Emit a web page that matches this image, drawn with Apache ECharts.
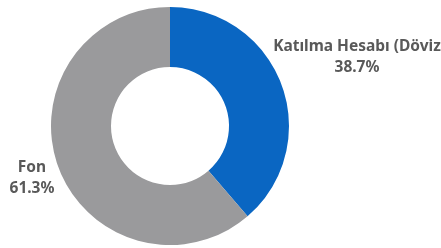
<!DOCTYPE html>
<html>
<head>
<meta charset="utf-8">
<script src="https://cdn.jsdelivr.net/npm/echarts@6/dist/echarts.min.js"></script>
<style>
  html, body { margin: 0; padding: 0; background: #fff; }
  #chart { width: 441px; height: 248px; }
</style>
</head>
<body>
<div id="chart"></div>
<script>
const names = ['Katılma Hesabı (Döviz', 'Fon']
const values = [38.7, 61.3]
const colors = ['#0a66c2', '#9a9a9c']

// label centers (px), placed like the reference
const labelPos = [[357, 57], [32, 178]]

const chart = echarts.init(document.getElementById('chart'))
const option = {
  animation: false,
  series: [
    {
      type: 'pie',
      center: [170, 126],
      radius: [59, 119],
      startAngle: 90,
      clockwise: true,
      silent: true,
      avoidLabelOverlap: false,
      data: names.map((n, i) => ({ name: n, value: values[i], itemStyle: { color: colors[i] } })),
      label: {
        show: true,
        position: 'outside',
        overflow: 'none',
        formatter: p => p.name + '\n' + p.value.toFixed(1) + '%',
        fontFamily: 'Noto Sans',
        fontWeight: 'bold',
        fontSize: 15.5,
        lineHeight: 21,
        color: '#595959',
        align: 'center'
      },
      labelLine: { show: false },
      labelLayout: function (params) {
        const p = labelPos[params.dataIndex]
        return { x: p[0], y: p[1], align: 'center', verticalAlign: 'middle', hideOverlap: false }
      }
    }
  ]
}
chart.setOption(option)
</script>
</body>
</html>
